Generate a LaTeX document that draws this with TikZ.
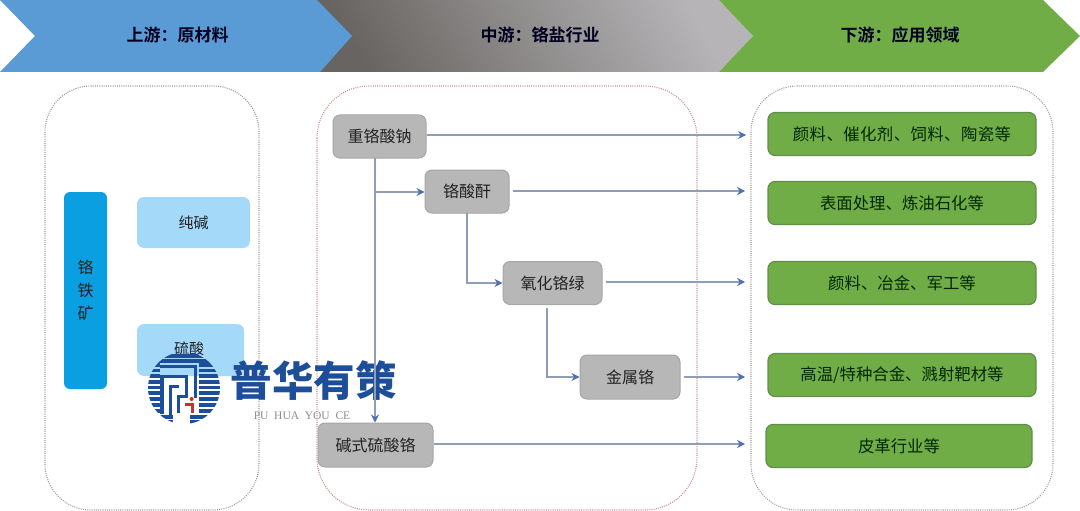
\documentclass[tikz,border=0pt]{standalone}
\usepackage{fontspec}
\usetikzlibrary{arrows.meta}
\setmainfont{Noto Sans CJK SC}
\newfontfamily\cjkwide[LetterSpace=2.5]{Noto Sans CJK SC}
\newfontfamily\cjkbold{Noto Sans CJK SC Bold}
\newfontfamily\cjkblack{Noto Sans CJK SC Black}
\newfontfamily\serifg{Liberation Serif}
\definecolor{hblue}{HTML}{5B9BD5}
\definecolor{hgreen}{HTML}{70AD47}
\definecolor{gdark}{HTML}{686461}
\definecolor{glight}{HTML}{B6B4B7}
\definecolor{gfill}{HTML}{B7B7B7}
\definecolor{gline}{HTML}{A6A6A6}
\definecolor{ggreenline}{HTML}{5F8F4A}
\definecolor{lineb}{HTML}{8F9DB8}
\definecolor{tipb}{HTML}{4F6FAE}
\definecolor{cyanbox}{HTML}{0A9FE0}
\definecolor{skybox}{HTML}{A4D9FA}
\definecolor{logob}{HTML}{1D4E9A}
\definecolor{logor}{HTML}{C8302E}
\definecolor{txt}{HTML}{222222}
\definecolor{panelred}{HTML}{C98F8F}
\definecolor{panelgrey}{HTML}{9A9A9E}
\definecolor{panelpink}{HTML}{A89A9E}
\tikzset{
 hdr/.style={font=\cjkbold\fontsize{17}{20}\selectfont,text=black!88!blue},
 panel/.style={rounded corners=46pt,dash pattern=on 1pt off 1.2pt,line width=1.1pt},
 gbox/.style={rectangle,rounded corners=7pt,draw=gline,line width=1pt,fill=gfill,inner sep=0pt,text=txt,font=\fontsize{16}{18}\selectfont},
 appbox/.style={rectangle,rounded corners=7pt,draw=ggreenline,line width=1.2pt,fill=hgreen,inner sep=0pt,text=black!85!green,font=\fontsize{16.4}{18}\selectfont,minimum height=43pt},
 skyb/.style={rectangle,rounded corners=7pt,fill=skybox,inner sep=0pt,text=txt,font=\fontsize{15}{18}\selectfont},
 conn/.style={draw=lineb,line width=1.1pt},
 arr/.style={conn,-{Stealth[length=8pt,width=8pt,color=tipb]}},
 stripe/.style={logob,line width=3.2pt},
 maze/.style={logob,line width=3.6pt,line join=miter},
}
\begin{document}
\begin{tikzpicture}[x=1pt,y=-1pt]
\useasboundingbox (0,0) rectangle (1080,511);
% header chevrons
\shade[left color=gdark, right color=glight, shading angle=120]
  (300,0) -- (719,0) -- (753,36) -- (719,72) -- (300,72) -- cycle;
\fill[hgreen] (719,0) -- (1043,0) -- (1080,36) -- (1043,72) -- (719,72) -- (753,36) -- cycle;
\fill[hblue] (0,0) -- (317,0) -- (352,36) -- (320,72) -- (0,72) -- (35,36) -- cycle;
\node[hdr] (h1) at (177.5,35) {上游：原材料};
\node[hdr] (h2) at (540,35) {中游：铬盐行业};
\node[hdr] (h3) at (900,35) {下游：应用领域};
% panels
\draw[panel,draw=panelgrey] (45,86) rectangle (259,510);
\draw[panel,draw=panelred,rounded corners=52pt] (317,86) rectangle (697,510);
\draw[panel,draw=panelpink] (751,86) rectangle (1053,510);
% upstream
\node[rectangle,rounded corners=6pt,fill=cyanbox,inner sep=0pt,minimum width=43pt,minimum height=197pt,text=txt,font=\fontsize{16}{23}\selectfont,align=center] (ore) at (85.5,290.5) {铬\\铁\\矿};
\node[skyb,minimum width=113pt,minimum height=51pt] (s1) at (193.5,222.5) {纯碱};
\node[skyb,minimum width=107pt,minimum height=52pt] (s2) at (190.5,350) {};
\node[font=\fontsize{15}{18}\selectfont,text=txt] (s2t) at (189,349) {硫酸};
% connector ends
\coordinate (v1) at (375,158);
\coordinate (b1) at (375,192);
\coordinate (v2) at (467,213);
\coordinate (b2) at (467,283);
\coordinate (v3) at (547,308);
\coordinate (b3) at (547,377);
\coordinate (e1) at (746,135);
\coordinate (e2) at (745,191);
\coordinate (e3) at (745,282);
\coordinate (e4) at (745,377);
\coordinate (e5) at (745,444);
% logo
\begin{scope}
 \clip (184,388) circle (36);
 \foreach \yy in {365,370.5,376,382,387.5,393,399,405,411}{
  \draw[stripe] (146,\yy) -- (160,\yy);
  \draw[stripe] (199,\yy) -- (222,\yy);
 }
 \foreach \yy in {356,361}{\draw[stripe] (146,\yy) -- (222,\yy);}
 \foreach \yy in {417,422}{
  \draw[stripe] (146,\yy) -- (173,\yy);
  \draw[stripe] (190,\yy) -- (222,\yy);
 }
\end{scope}
\begin{scope}[shift={(140,345)},scale=1/3]
 \draw[maze] (60,65) -- (167,65) -- (167,160);
 \draw[maze] (66,208) -- (66,95) -- (140,95) -- (140,155) -- (115,155) -- (115,205);
 \draw[maze] (92,215) -- (92,125) -- (116,125);
 \fill[logor] (155,162) circle (6);
 \draw[logor,line width=3.4pt] (135,178) -- (157,178) -- (157,205);
\end{scope}
\node[font=\cjkblack\fontsize{41.5}{44}\selectfont,text=logob,inner sep=0pt] (logot) at (313.5,381) {普华有策};
\node[font=\serifg\fontsize{11.5}{12}\selectfont,text=gray!90,inner sep=0pt] (logos) at (302,416) {PU\ \ HUA\ \ YOU\ \ CE};
% grey nodes
\node[gbox,minimum width=93pt,minimum height=43pt] (n1) at (379.5,136.5) {重铬酸钠};
\node[gbox,minimum width=84pt,minimum height=43pt] (n2) at (467,191.5) {铬酸酐};
\node[gbox,minimum width=99pt,minimum height=43pt] (n3) at (552.5,283) {氧化铬绿};
\node[gbox,minimum width=100pt,minimum height=44pt] (n4) at (630,377) {金属铬};
\node[gbox,minimum width=115pt,minimum height=44pt] (n5) at (375.5,445) {碱式硫酸铬};
% green nodes
\node[appbox,minimum width=268pt] (a1) at (902,134) {\cjkwide 颜料、催化剂、饲料、陶瓷等};
\node[appbox,minimum width=268pt] (a2) at (902,203) {表面处理、炼油石化等};
\node[appbox,minimum width=268pt] (a3) at (902,283) {颜料、冶金、军工等};
\node[appbox,minimum width=268pt] (a4) at (902,375) {高温/特种合金、溅射靶材等};
\node[appbox,minimum width=266pt] (a5) at (899,446) {皮革行业等};
% connectors
\draw[arr] (v1) -- (v1 |- n5.north);
\draw[arr] (b1) -- (n2.west |- b1);
\draw[arr] (v2) -- (b2) -- (n3.west |- b2);
\draw[arr] (v3) -- (b3) -- (n4.west |- b3);
\draw[arr] (n1.east |- e1) -- (e1);
\draw[arr] ([xshift=3pt]n2.east |- e2) -- (e2);
\draw[arr] ([xshift=3pt]n3.east |- e3) -- (e3);
\draw[arr] ([xshift=3pt]n4.east |- e4) -- (e4);
\draw[arr] (n5.east |- e5) -- (e5);
\end{tikzpicture}
\end{document}
